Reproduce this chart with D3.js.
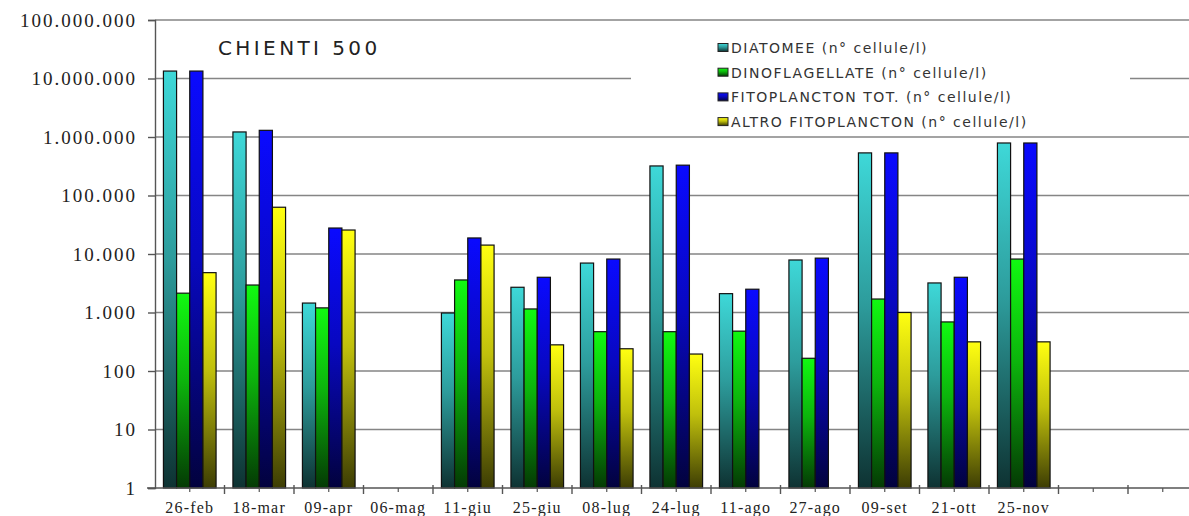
<!DOCTYPE html>
<html>
<head>
<meta charset="utf-8">
<script src="https://cdn.jsdelivr.net/npm/d3@7"></script>
<style>
  body { margin: 0; background: #fff; }
  svg { display: block; }
</style>
</head>
<body>
<div id="chart"></div>
<script>
////////////////////////////////////////////////////////////////////////
// Data (n° cellule/l)

let dates = ["26-feb", "18-mar", "09-apr", "06-mag", "11-giu", "25-giu", "08-lug",
  "24-lug", "11-ago", "27-ago", "09-set", "21-ott", "25-nov", "", " "];

let diatomee = [13400000, 1220000, 1450, null, 980, 2700, 7000, 320000, 2100, 7900, 535000, 3200, 790000, null, null];
let dinoflagellate = [2140, 2950, 1200, null, 3600, 1150, 470, 470, 480, 165, 1700, 690, 8200, null, null];
let fitoTot = [13400000, 1300000, 27800, null, 18800, 4000, 8200, 330000, 2500, 8500, 535000, 4000, 790000, null, null];
let altro = [4800, 63000, 25700, null, 14200, 280, 240, 195, null, null, 1000, 315, 315, null, null];

let seriesNames = ["DIATOMEE (n° cellule/l)", "DINOFLAGELLATE (n° cellule/l)",
  "FITOPLANCTON TOT. (n° cellule/l)", "ALTRO FITOPLANCTON (n° cellule/l)"];
let seriesColors = ["#3cd0d0", "#10f010", "#0a0aff", "#ffff10"];

let yTicks = [1, 10, 100, 1000, 10000, 100000, 1000000, 10000000, 100000000];

////////////////////////////////////////////////////////////////////////
// Layout

let width = 1189;
let height = 516;
let plotLeft = 155;
let plotTop = 20;
let plotBottom = 488;
let step = 69.5;

let svg = d3.select("#chart")
  .append("svg")
  .attr("width", width)
  .attr("height", height);

let xScale = d3.scaleBand()
  .domain(dates)
  .range([plotLeft, plotLeft + step * dates.length])
  .paddingInner(0)
  .paddingOuter(0);

// 4 bars side by side, empty space at both sides of the group
let inner = d3.scaleBand()
  .domain(d3.range(4))
  .range([0, xScale.bandwidth()])
  .paddingInner(0)
  .paddingOuter(0.64);

let yScale = d3.scaleLog()
  .domain([1, 1e8])
  .range([plotBottom, plotTop]);

// one vertical gradient per series: bright top, almost black bottom
let defs = svg.append("defs");
seriesColors.forEach((c, i) => {
  let g = defs.append("linearGradient")
    .attr("id", "grad" + i)
    .attr("x1", 0).attr("y1", 0)
    .attr("x2", 0).attr("y2", 1);
  let base = d3.rgb(c);
  g.append("stop").attr("offset", "0%").attr("stop-color", base.brighter(0.1));
  g.append("stop").attr("offset", "45%").attr("stop-color", base.darker(0.8));
  g.append("stop").attr("offset", "100%").attr("stop-color", base.darker(4));
});

// gridlines
svg.append("g")
  .selectAll("line")
  .data(yTicks.slice(1))
  .enter()
  .append("line")
  .attr("x1", plotLeft)
  .attr("x2", width)
  .attr("y1", d => yScale(d))
  .attr("y2", d => yScale(d))
  .attr("stroke", "#858585")
  .attr("stroke-width", 1.6);

// y axis
let yAxis = d3.axisLeft(yScale)
  .tickValues(yTicks)
  .tickSize(7)
  .tickFormat(d => d3.format(",")(d).replace(/,/g, "."));

svg.append("g")
  .attr("transform", "translate(" + plotLeft + ",0)")
  .call(yAxis)
  .call(g => g.select(".domain").attr("stroke", "#555").attr("stroke-width", 1.4))
  .call(g => g.selectAll(".tick line").attr("stroke", "#555").attr("stroke-width", 1.4))
  .call(g => g.selectAll("text")
    .attr("x", -18)
    .attr("fill", "#222")
    .style("font-family", "'Liberation Serif', serif")
    .style("font-size", "19px")
    .style("letter-spacing", "2px"));

// bars
let series = [diatomee, dinoflagellate, fitoTot, altro];
let groups = svg.append("g")
  .selectAll("g")
  .data(dates)
  .enter()
  .append("g")
  .attr("transform", d => "translate(" + xScale(d) + ",0)");

groups.selectAll("rect")
  .data((d, i) => series.map((s, k) => ({ k: k, v: s[i] })).filter(e => e.v != null))
  .enter()
  .append("rect")
  .attr("x", d => inner(d.k))
  .attr("width", inner.bandwidth())
  .attr("y", d => yScale(d.v))
  .attr("height", d => plotBottom - yScale(d.v))
  .attr("fill", d => "url(#grad" + d.k + ")")
  .attr("stroke", "#111")
  .attr("stroke-width", 1.2);

// x axis: ticks on category boundaries and small ticks at centers
let xAxisG = svg.append("g");
xAxisG.append("line")
  .attr("x1", plotLeft - 8).attr("x2", width)
  .attr("y1", plotBottom).attr("y2", plotBottom)
  .attr("stroke", "#555").attr("stroke-width", 1.4);

xAxisG.selectAll(".major")
  .data(dates)
  .enter()
  .append("line")
  .attr("class", "major")
  .attr("x1", d => xScale(d) + step).attr("x2", d => xScale(d) + step)
  .attr("y1", plotBottom - 3).attr("y2", plotBottom + 6)
  .attr("stroke", "#555").attr("stroke-width", 1.4);

xAxisG.selectAll(".minor")
  .data(dates)
  .enter()
  .append("line")
  .attr("class", "minor")
  .attr("x1", d => xScale(d) + step / 2).attr("x2", d => xScale(d) + step / 2)
  .attr("y1", plotBottom).attr("y2", plotBottom + 4)
  .attr("stroke", "#555").attr("stroke-width", 1.2);

xAxisG.selectAll("text")
  .data(dates)
  .enter()
  .append("text")
  .attr("x", d => xScale(d) + step / 2)
  .attr("y", 513)
  .attr("text-anchor", "middle")
  .attr("fill", "#222")
  .style("font-family", "'Liberation Serif', serif")
  .style("font-size", "16px")
  .style("letter-spacing", "1.2px")
  .text(d => d);

// title
svg.append("text")
  .attr("x", 218)
  .attr("y", 55)
  .attr("fill", "#222")
  .style("font-family", "'DejaVu Sans', sans-serif")
  .style("font-size", "20px")
  .style("letter-spacing", "3.4px")
  .text("CHIENTI 500");

// legend
let legend = svg.append("g");
legend.append("rect")
  .attr("x", 631).attr("y", 21.5)
  .attr("width", 499).attr("height", 113)
  .attr("fill", "#fff");

let items = legend.selectAll(".item")
  .data(seriesNames)
  .enter()
  .append("g")
  .attr("class", "item")
  .attr("transform", (d, i) => "translate(718," + (48 + i * 24.7) + ")");

items.append("rect")
  .attr("x", 0).attr("y", -4.5)
  .attr("width", 10).attr("height", 8)
  .attr("fill", (d, i) => "url(#grad" + i + ")")
  .attr("stroke", "#222")
  .attr("stroke-width", 1);

items.append("text")
  .attr("x", 13)
  .attr("y", 5)
  .attr("fill", "#333")
  .style("font-family", "'DejaVu Sans', sans-serif")
  .style("font-size", "14px")
  .style("letter-spacing", "1.5px")
  .text(d => d);
</script>
</body>
</html>
